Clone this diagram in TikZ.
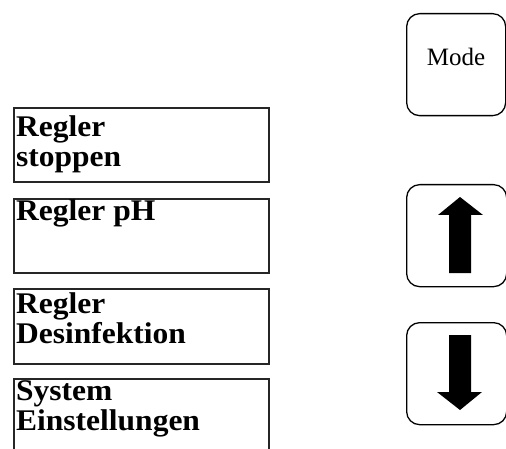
\documentclass[tikz,border=0pt]{standalone}
\usepackage{fontspec}
\setmainfont{Liberation Serif}
\newfontfamily\menufont{Liberation Serif}[FakeStretch=1.05]
\begin{document}
\begin{tikzpicture}[x=1pt,y=-1pt,
  menubox/.style={draw=black!85, line width=1.6pt, rectangle, inner sep=0pt, anchor=north west, minimum width=255pt},
  keybox/.style={draw=black, line width=1.3pt, rectangle, rounded corners=13pt, inner sep=0pt, anchor=north west, minimum width=100pt, minimum height=102pt},
  menutext/.style={anchor=base west, inner sep=0pt, font=\menufont\fontsize{30}{30}\selectfont\bfseries},
  arrowfill/.style={fill=black, draw=none}]
\useasboundingbox (0,0) rectangle (506,449);
% menu boxes
\node[menubox, minimum height=74pt] (b1) at (13,107) {};
\node[menubox, minimum height=74pt] (b2) at (13,198) {};
\node[menubox, minimum height=75pt] (b3) at (13,288) {};
\node[menubox, minimum height=90pt] (b4) at (13,378) {};
\node[menutext] (t1a) at (16,137) {Regler};
\node[menutext] (t1b) at (16,167) {stoppen};
\node[menutext] (t2a) at (16,221) {Regler pH};
\node[menutext] (t3a) at (16,313) {Regler};
\node[menutext] (t3b) at (16,343) {Desinfektion};
\node[menutext] (t4a) at (16,400) {System};
\node[menutext] (t4b) at (16,430) {Einstellungen};
% keys
\node[keybox, minimum width=99pt] (mode) at (406,13) {};
\node[anchor=base, inner sep=0pt, font=\fontsize{25}{26}\selectfont] (modet) at (456,66) {Mode};
\node[keybox] (up) at (406,184) {};
\node[keybox] (down) at (406,322) {};
% arrows
\fill[arrowfill] (460,197) -- (483,215) -- (471,215) -- (471,273) -- (449,273) -- (449,215) -- (438,215) -- cycle;
\fill[arrowfill] (460,410) -- (482,392) -- (471,392) -- (471,335) -- (449,335) -- (449,392) -- (437,392) -- cycle;
\end{tikzpicture}
\end{document}
